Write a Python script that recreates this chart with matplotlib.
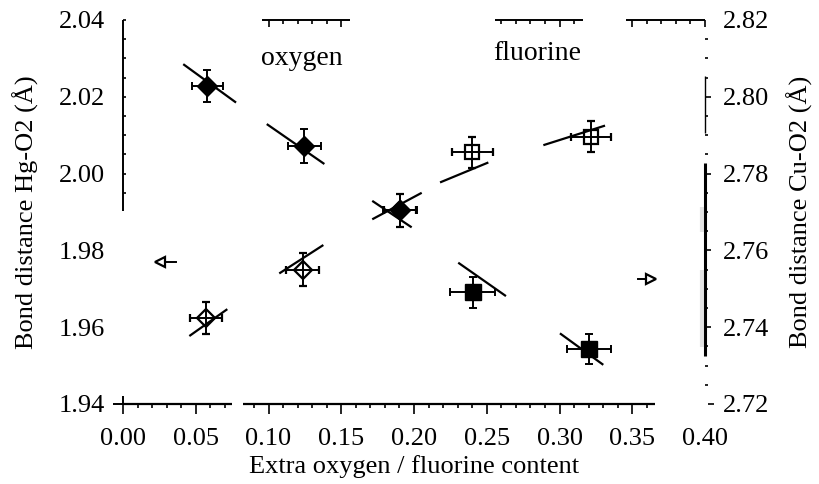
import numpy as np
import matplotlib
matplotlib.use("Agg")
import matplotlib.pyplot as plt
import matplotlib.transforms as mtransforms

plt.rcParams['font.family'] = ['Liberation Serif', 'DejaVu Serif']

# Hg-O2 distances (open symbols, left axis)
hg_ox_x = [0.0570, 0.1235, 0.1904]
hg_ox_y = [1.9623, 1.9749, 1.9905]
hg_ox_xerr = [0.0107, 0.0112, 0.0112]
hg_ox_yerr = [0.0042, 0.0043, 0.0043]

hg_f_x = [0.2401, 0.3216]
hg_f_y = [2.0055, 2.0096]
hg_f_xerr = [0.0141, 0.0135]
hg_f_yerr = [0.0040, 0.0041]

# Cu-O2 distances (filled symbols, right axis)
cu_ox_x = [0.0579, 0.1246, 0.1904]
cu_ox_y = [2.8028, 2.7872, 2.7705]
cu_ox_xerr = [0.0105, 0.0113, 0.0115]
cu_ox_yerr = [0.0041, 0.0044, 0.0043]

cu_f_x = [0.2403, 0.3205]
cu_f_y = [2.7491, 2.7343]
cu_f_xerr = [0.0155, 0.0151]
cu_f_yerr = [0.0041, 0.0040]

# local slope segments drawn at each point
hg_seg_x0 = [0.0456, 0.1074, 0.1713, 0.2179, 0.2889]
hg_seg_x1 = [0.0717, 0.1377, 0.2053, 0.2511, 0.3313]
hg_seg_y0 = [1.9577, 1.9740, 1.9881, 1.9977, 2.0074]
hg_seg_y1 = [1.9647, 1.9814, 1.9950, 2.0029, 2.0125]

cu_seg_x0 = [0.0414, 0.0988, 0.1713, 0.2304, 0.3003]
cu_seg_x1 = [0.0777, 0.1384, 0.1984, 0.2632, 0.3301]
cu_seg_y0 = [2.8085, 2.7929, 2.7729, 2.7568, 2.7384]
cu_seg_y1 = [2.7985, 2.7825, 2.7660, 2.7481, 2.7302]

# axis pointers (tail, head, level)
hg_arrow = [0.0364, 0.0256, 1.9771]
cu_arrow = [0.3537, 0.3632, 2.7526]

x_ticks = [0.00, 0.05, 0.10, 0.15, 0.20, 0.25, 0.30, 0.35, 0.40]
hg_ticks = [1.94, 1.96, 1.98, 2.00, 2.02, 2.04]
cu_ticks = [2.72, 2.74, 2.76, 2.78, 2.80, 2.82]

W, H = 819, 484
fig = plt.figure(figsize=(W / 100, H / 100), dpi=100)
ax = fig.add_axes([123 / W, 80 / H, 582 / W, 384 / H])
ax2 = ax.twinx()
AXW, AXH = 582.0, 384.0

ax.set_xlim(0, 0.4)
ax.set_ylim(1.94, 2.04)
ax2.set_ylim(2.72, 2.82)

for a in (ax, ax2):
    for s in a.spines.values():
        s.set_visible(False)

ax.set_xticks(x_ticks)
ax.set_xticklabels([f"{v:.2f}" for v in x_ticks])
ax.set_yticks(hg_ticks)
ax.set_yticklabels([f"{v:.2f}" for v in hg_ticks])
ax2.set_yticks(cu_ticks)
ax2.set_yticklabels([f"{v:.2f}" for v in cu_ticks])
ax.tick_params(axis='x', length=0, pad=17, labelsize=19)
ax.tick_params(axis='y', length=0, pad=13, labelsize=19)
ax2.tick_params(axis='y', length=0, pad=13, labelsize=19)

ax.set_xlabel("Extra oxygen / fluorine content", fontsize=19)
ax.xaxis.set_label_coords(0.5, -0.133)
ax.set_ylabel("Bond distance Hg-O2 (\u00c5)", fontsize=19)
ax.yaxis.set_label_coords(-0.144, 0.5)
ax2.set_ylabel("Bond distance Cu-O2 (\u00c5)", fontsize=19, rotation=90)
ax2.yaxis.set_label_coords(1.141, 0.5)

# broken axis lines and hand-placed ticks
bx = mtransforms.blended_transform_factory(ax.transData, ax.transAxes)
ly = mtransforms.blended_transform_factory(ax.transAxes, ax.transData)
ry = mtransforms.blended_transform_factory(ax2.transAxes, ax2.transData)


def line(a, xs, ys, tr, lw=1.4, color='k', alpha=1.0):
    a.plot(xs, ys, transform=tr, color=color, lw=lw, alpha=alpha,
           clip_on=False, solid_capstyle='butt')


def in_any(v, spans):
    return any(lo - 1e-9 <= v <= hi + 1e-9 for lo, hi in spans)


bottom_spans = [(0.0, 0.075), (0.0825, 0.3656)]
for lo, hi in bottom_spans:
    line(ax, [lo, hi], [0, 0], bx, lw=1.6)
for v in np.round(np.arange(0, 0.401, 0.01), 3):
    if in_any(v, bottom_spans):
        major = abs(v / 0.05 - round(v / 0.05)) < 1e-6
        L = (10 if major else 4) / AXH
        line(ax, [v, v], [0, -L], bx, lw=1.2)
# corner cross at the origin
line(ax, [-10 / AXW, 0], [0, 0], ax.transAxes, lw=1.4)
line(ax, [0, 0], [0, 8 / AXH], ax.transAxes, lw=1.4)

top_spans = [(0.0952, 0.156), (0.2555, 0.316), (0.3457, 0.40)]
for lo, hi in top_spans:
    line(ax, [lo, hi], [1, 1], bx, lw=1.4)
for v in np.round(np.arange(0, 0.401, 0.01), 3):
    if in_any(v, top_spans):
        major = abs(v / 0.05 - round(v / 0.05)) < 1e-6
        L = (7 if major else 4) / AXH
        line(ax, [v, v], [1, 1 - L], bx, lw=1.2)

left_span = (1.9903, 2.04)
line(ax, [0, 0], list(left_span), ly, lw=1.4)
for v in np.round(np.arange(1.995, 2.0401, 0.005), 3):
    line(ax, [0, 3 / AXW], [v, v], ly, lw=1.2)

right_spans = [(2.7906, 2.8054, 1.0), (2.7325, 2.7828, 2.2)]
for lo, hi, lw in right_spans:
    line(ax2, [1, 1], [lo, hi], ry, lw=lw)
for v in np.round(np.arange(2.72, 2.8201, 0.005), 3):
    major = abs(v / 0.02 - round(v / 0.02)) < 1e-6
    if v >= 2.8199:
        continue
    if abs(v - 2.72) < 1e-6:
        line(ax2, [1 + 3 / AXW, 1 + 9 / AXW], [v, v], ry, lw=1.2)
        continue
    L = (6 if major else 3) / AXW
    line(ax2, [1, 1 + L], [v, v], ry, lw=1.2)
# faint smudges along the right axis line
line(ax2, [1 - 3 / AXW, 1 - 3 / AXW], [2.7648, 2.7714], ry, lw=3, color='0.7', alpha=0.35)
line(ax2, [1 - 3 / AXW, 1 - 3 / AXW], [2.7349, 2.7549], ry, lw=3, color='0.7', alpha=0.35)

# slope segments
for x0, x1, y0, y1 in zip(hg_seg_x0, hg_seg_x1, hg_seg_y0, hg_seg_y1):
    ax.plot([x0, x1], [y0, y1], color='k', lw=1.6, solid_capstyle='butt')
for x0, x1, y0, y1 in zip(cu_seg_x0, cu_seg_x1, cu_seg_y0, cu_seg_y1):
    ax2.plot([x0, x1], [y0, y1], color='k', lw=1.6, solid_capstyle='butt')

eb = dict(color='k', ecolor='k', elinewidth=1.4, capsize=3.2, capthick=1.4, ls='none')
ax.errorbar(hg_ox_x, hg_ox_y, xerr=hg_ox_xerr, yerr=hg_ox_yerr, marker='D', ms=9,
            mfc='none', mec='k', mew=1.6, **eb)
ax.errorbar(hg_f_x, hg_f_y, xerr=hg_f_xerr, yerr=hg_f_yerr, marker='s', ms=10,
            mfc='none', mec='k', mew=1.6, **eb)
ax2.errorbar(cu_ox_x, cu_ox_y, xerr=cu_ox_xerr, yerr=cu_ox_yerr, marker='D', ms=10.5,
             mfc='k', mec='k', **eb)
ax2.errorbar(cu_f_x, cu_f_y, xerr=cu_f_xerr, yerr=cu_f_yerr, marker='s', ms=11,
             mfc='k', mec='k', **eb)

# pointers telling which axis each set belongs to
ax.plot([hg_arrow[0], hg_arrow[1]], [hg_arrow[2], hg_arrow[2]], color='k', lw=1.4)
ax.plot([hg_arrow[1]], [hg_arrow[2]], marker='<', ms=7, mfc='white', mec='k', mew=1.6)
ax2.plot([cu_arrow[0], cu_arrow[1]], [cu_arrow[2], cu_arrow[2]], color='k', lw=1.4)
ax2.plot([cu_arrow[1]], [cu_arrow[2]], marker='>', ms=7, mfc='white', mec='k', mew=1.6)

ax.text(0.123, 2.0301, "oxygen", ha='center', va='center', fontsize=20)
ax.text(0.285, 2.0314, "fluorine", ha='center', va='center', fontsize=20)

fig.savefig("out.png", dpi=100)
